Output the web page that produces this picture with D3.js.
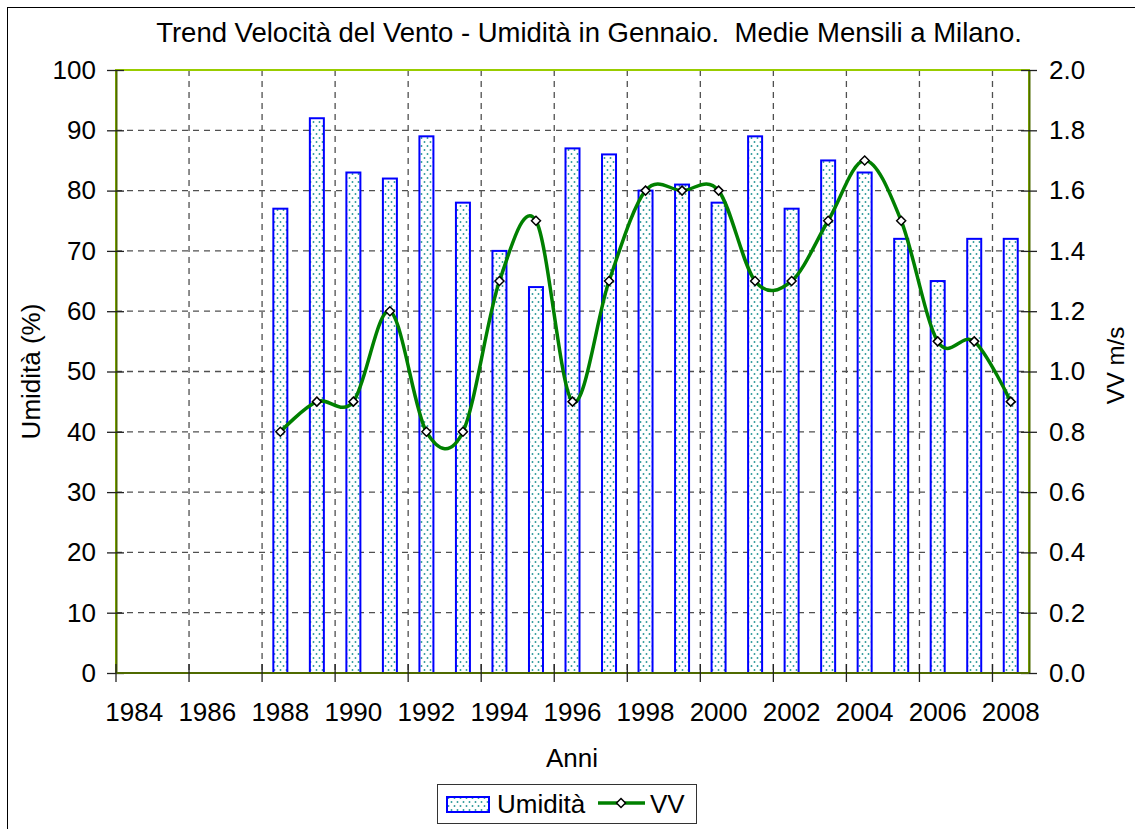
<!DOCTYPE html>
<html>
<head>
<meta charset="utf-8">
<script src="https://cdn.jsdelivr.net/npm/d3@7"></script>
<style>
  body { margin: 0; background: #fff; }
  svg { display: block; font-family: "Liberation Sans", Arial, sans-serif; }
  text { fill: #000; }
</style>
</head>
<body>
<div id="chart"></div>
<script>
const svgWidth = 1135;
const svgHeight = 829;
const plot = { left: 116, right: 1029, top: 70, bottom: 673 };

// categories: one per year on the axis
const years = [1984, 1985, 1986, 1987, 1988, 1989, 1990, 1991, 1992, 1993, 1994, 1995, 1996,
  1997, 1998, 1999, 2000, 2001, 2002, 2003, 2004, 2005, 2006, 2007, 2008];
// Umidità (%) - left axis
const umidita = [null, null, null, null, 77, 92, 83, 82, 89, 78, 70, 64, 87,
  86, 80, 81, 78, 89, 77, 85, 83, 72, 65, 72, 72];
// VV m/s - right axis
const vv = [null, null, null, null, 0.8, 0.9, 0.9, 1.2, 0.8, 0.8, 1.3, 1.5, 0.9,
  1.3, 1.6, 1.6, 1.6, 1.3, 1.3, 1.5, 1.7, 1.5, 1.1, 1.1, 0.9];
// tick labels
const xLabels = [1984, 1986, 1988, 1990, 1992, 1994, 1996, 1998, 2000, 2002, 2004, 2006, 2008];
const leftTicks = [0, 10, 20, 30, 40, 50, 60, 70, 80, 90, 100];
const rightTicks = [0, 0.2, 0.4, 0.6, 0.8, 1.0, 1.2, 1.4, 1.6, 1.8, 2.0];

const title = "Trend Velocità del Vento - Umidità in Gennaio.  Medie Mensili a Milano.";

let svg = d3.select("#chart").append("svg").attr("width", svgWidth).attr("height", svgHeight);

// dotted fill used by the bars
let pat = svg.append("defs").append("pattern")
  .attr("id", "dots").attr("patternUnits", "userSpaceOnUse")
  .attr("width", 6).attr("height", 8);
pat.append("rect").attr("width", 6).attr("height", 8).attr("fill", "#fff");
pat.append("circle").attr("cx", 1.5).attr("cy", 2).attr("r", 0.95).attr("fill", "#2a9898");
pat.append("circle").attr("cx", 4.5).attr("cy", 6).attr("r", 0.95).attr("fill", "#2a9898");

// outer frame
svg.append("rect").attr("x", 7.5).attr("y", 7.5).attr("width", svgWidth).attr("height", svgHeight)
  .attr("fill", "#fff").attr("stroke", "#000").attr("stroke-width", 1);

let x = d3.scaleBand().domain(years).range([plot.left, plot.right]);
let yL = d3.scaleLinear().domain([0, 100]).range([plot.bottom, plot.top]);
let yR = d3.scaleLinear().domain([0, 2]).range([plot.bottom, plot.top]);

// gridlines
let grid = svg.append("g").attr("stroke", "#505050").attr("stroke-width", 1.3).attr("stroke-dasharray", "6,5");
grid.selectAll("line.h").data(leftTicks.filter(d => d > 0 && d < 100)).enter().append("line")
  .attr("x1", plot.left).attr("x2", plot.right)
  .attr("y1", d => yL(d)).attr("y2", d => yL(d));
grid.selectAll("line.v").data(xLabels.slice(1)).enter().append("line")
  .attr("x1", d => x(d)).attr("x2", d => x(d))
  .attr("y1", plot.top).attr("y2", plot.bottom);

// plot area border
svg.append("rect").attr("x", plot.left).attr("y", plot.top)
  .attr("width", plot.right - plot.left).attr("height", plot.bottom - plot.top)
  .attr("fill", "none").attr("stroke", "#99cc00").attr("stroke-width", 2);

// bars
let barW = 14;
let barData = years.map((y, i) => ({ year: y, val: umidita[i] })).filter(d => d.val != null);
svg.append("g").selectAll("rect").data(barData).enter().append("rect")
  .attr("x", d => x(d.year) + x.bandwidth() / 2 - barW / 2)
  .attr("y", d => yL(d.val))
  .attr("width", barW)
  .attr("height", d => plot.bottom - yL(d.val))
  .attr("fill", "url(#dots)").attr("stroke", "#0000ff").attr("stroke-width", 2);

// axes
let axisColor = "#4f6a00";
let leftAxis = svg.append("g").attr("transform", `translate(${plot.left},0)`)
  .call(d3.axisLeft(yL).tickValues(leftTicks).tickSizeInner(9).tickSizeOuter(0).tickPadding(11));
leftAxis.selectAll(".tick line").attr("x1", 8);
let rightAxis = svg.append("g").attr("transform", `translate(${plot.right},0)`)
  .call(d3.axisRight(yR).tickValues(rightTicks).tickFormat(d3.format(".1f")).tickSizeInner(8).tickSizeOuter(0).tickPadding(12));
rightAxis.selectAll(".tick line").attr("x1", -8);
[leftAxis, rightAxis].forEach(a => {
  a.select(".domain").attr("stroke", axisColor).attr("stroke-width", 2);
  a.selectAll(".tick line").attr("stroke", "#222").attr("stroke-width", 1.3);
  a.selectAll("text").attr("font-size", 26).attr("font-family", null).attr("fill", "#000");
});

let xAxis = svg.append("g");
xAxis.append("line").attr("x1", plot.left).attr("x2", plot.right)
  .attr("y1", plot.bottom).attr("y2", plot.bottom)
  .attr("stroke", axisColor).attr("stroke-width", 2);
xAxis.selectAll("line.tick").data(xLabels).enter().append("line")
  .attr("x1", d => x(d)).attr("x2", d => x(d))
  .attr("y1", plot.bottom - 9).attr("y2", plot.bottom + 9)
  .attr("stroke", "#222").attr("stroke-width", 1.3);
xAxis.selectAll("text").data(xLabels).enter().append("text")
  .attr("x", d => x(d) + x.bandwidth() / 2).attr("y", 721)
  .attr("text-anchor", "middle").attr("font-size", 26)
  .text(d => d);

// smoothed VV line
let lineData = years.map((y, i) => ({ year: y, val: vv[i] })).filter(d => d.val != null);
let line = d3.line()
  .x(d => x(d.year) + x.bandwidth() / 2)
  .y(d => yR(d.val))
  .curve(d3.curveCardinal.tension(0));
svg.append("path").datum(lineData).attr("d", line)
  .attr("fill", "none").attr("stroke", "#008000").attr("stroke-width", 3.5);
let diamond = "M0,-4.5L4.5,0L0,4.5L-4.5,0Z";
svg.append("g").selectAll("path").data(lineData).enter().append("path")
  .attr("d", diamond)
  .attr("transform", d => `translate(${x(d.year) + x.bandwidth() / 2},${yR(d.val)})`)
  .attr("fill", "#fff").attr("stroke", "#000").attr("stroke-width", 1.5);

// titles
svg.append("text").attr("x", 589).attr("y", 42).attr("text-anchor", "middle")
  .attr("font-size", 27.5).style("white-space", "pre").text(title);
svg.append("text").attr("x", 572).attr("y", 767).attr("text-anchor", "middle")
  .attr("font-size", 26).text("Anni");
svg.append("text").attr("transform", `translate(40,${(plot.top + plot.bottom) / 2}) rotate(-90)`)
  .attr("text-anchor", "middle").attr("font-size", 26).text("Umidità (%)");
svg.append("text").attr("transform", `translate(1124,${(plot.top + plot.bottom) / 2 - 6}) rotate(-90)`)
  .attr("text-anchor", "middle").attr("font-size", 24).text("VV m/s");

// legend
let lg = svg.append("g");
lg.append("rect").attr("x", 437.5).attr("y", 784.5).attr("width", 259).attr("height", 39)
  .attr("fill", "#fff").attr("stroke", "#333").attr("stroke-width", 1);
lg.append("rect").attr("x", 447).attr("y", 797).attr("width", 42).attr("height", 15)
  .attr("fill", "url(#dots)").attr("stroke", "#0000ff").attr("stroke-width", 2);
lg.append("text").attr("x", 497).attr("y", 813).attr("font-size", 26).text("Umidità");
lg.append("line").attr("x1", 598).attr("x2", 645).attr("y1", 803).attr("y2", 803)
  .attr("stroke", "#008000").attr("stroke-width", 3.5);
lg.append("path").attr("d", diamond).attr("transform", "translate(621,803)")
  .attr("fill", "#fff").attr("stroke", "#000").attr("stroke-width", 1.5);
lg.append("text").attr("x", 650).attr("y", 813).attr("font-size", 26).text("VV");
</script>
</body>
</html>
